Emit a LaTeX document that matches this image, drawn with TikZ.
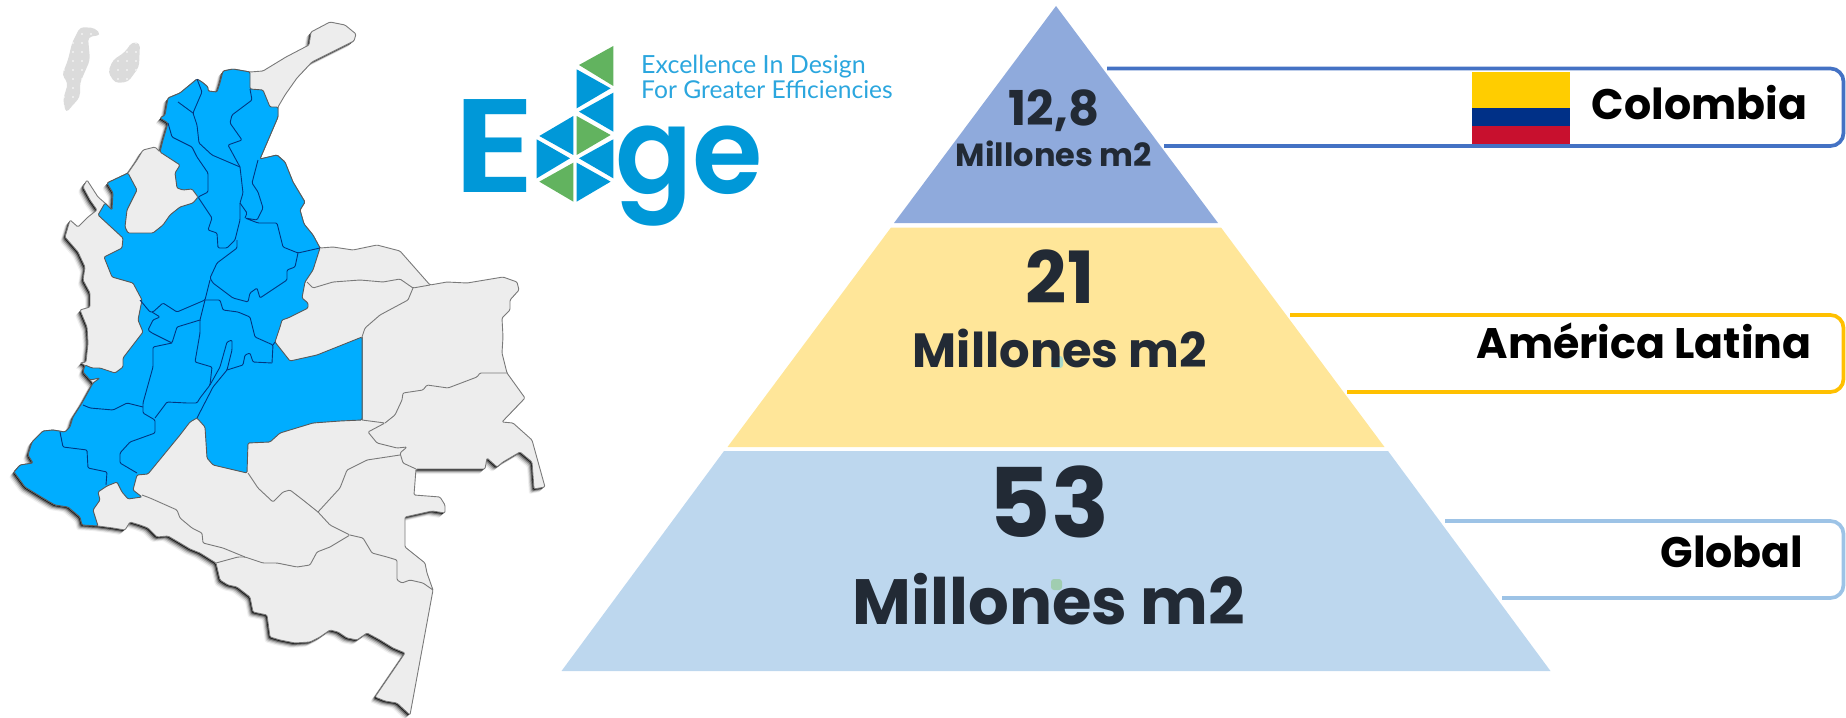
\documentclass[tikz,border=0pt]{standalone}
\usepackage{fontspec}
\newfontfamily\popf{Poppins}[UprightFont=* Bold]
\newfontfamily\popm{Poppins}[UprightFont=* SemiBold]
\newfontfamily\tagf{Lato}
\definecolor{mapblue}{HTML}{00ADFF}
\definecolor{mapgray}{HTML}{EDEDED}
\definecolor{edgeblue}{HTML}{0098D8}
\definecolor{edgegreen}{HTML}{62B35F}
\definecolor{tagblue}{HTML}{2BA6DE}
\definecolor{pyrtop}{HTML}{8FAADC}
\definecolor{pyrmid}{HTML}{FFE699}
\definecolor{pyrlow}{HTML}{BDD7EE}
\definecolor{pyrtext}{HTML}{222A35}
\definecolor{callblue}{HTML}{4472C4}
\definecolor{callgold}{HTML}{FFC000}
\definecolor{calllight}{HTML}{9DC3E6}
\definecolor{flagy}{HTML}{FFCD00}
\definecolor{flagb}{HTML}{003087}
\definecolor{flagr}{HTML}{C8102E}
\definecolor{dotmid}{HTML}{A9D9C8}
\definecolor{dotlow}{HTML}{A0CDB0}
\def\silhouette{(233,69)--(250,72)--(263,71)--(286,57)--(309,45)--(311,32)--(330,22)--(345,25)--(356,34)--(354,41)--(330,53)--(312,62)--(297,78)--(285,95)--(278,107)--(278,117)--(260,159)--(277,155)--(285,162)--(293,182)--(305,202)--(300,210)--(304,224)--(313,235)--(320,248)--(333,247)--(353,250)--(377,245)--(400,251)--(430,285)--(447,282)--(467,283)--(503,277)--(517,282)--(519,290)--(510,300)--(510,310)--(502,318)--(503,337)--(502,353)--(507,373)--(525,398)--(502,422)--(513,423)--(532,440)--(545,487)--(534,489)--(532,462)--(520,452)--(503,462)--(497,467)--(487,458)--(485,469)--(416,469)--(414,495)--(440,497)--(445,505)--(445,513)--(432,511)--(405,517)--(405,547)--(425,563)--(427,573)--(433,590)--(410,715)--(397,703)--(385,701)--(375,697)--(405,653)--(393,648)--(380,640)--(367,633)--(357,640)--(347,638)--(338,632)--(330,630)--(320,637)--(310,642)--(295,643)--(280,640)--(270,637)--(267,615)--(253,612)--(250,597)--(237,587)--(228,585)--(220,580)--(216,563)--(200,553)--(190,549)--(180,543)--(168,536)--(157,537)--(148,528)--(140,525)--(130,522)--(125,530)--(113,528)--(98,526)--(82,525)--(80,517)--(68,507)--(55,505)--(43,498)--(25,487)--(14,472)--(20,465)--(33,463)--(28,455)--(32,442)--(43,431)--(53,430)--(65,432)--(70,427)--(73,417)--(82,403)--(93,383)--(90,380)--(83,372)--(85,365)--(80,363)--(86,362)--(88,343)--(87,327)--(80,310)--(90,307)--(90,293)--(83,280)--(85,267)--(78,252)--(65,237)--(70,220)--(78,227)--(88,217)--(97,210)--(90,200)--(83,187)--(87,180)--(98,197)--(105,203)--(112,210)--(113,193)--(107,183)--(128,173)--(137,160)--(143,150)--(155,147)--(160,152)--(163,140)--(168,123)--(160,118)--(165,115)--(168,98)--(180,93)--(197,79)--(202,82)--(208,87)--(208,91)--(217,92)--(220,83)--(223,71)--cycle}
\tikzset{
  ml/.style={line width=.9pt,draw=black!52,line join=round,rounded corners=1.2pt},
  bl/.style={line width=.9pt,draw=black!50!blue!55!mapblue!70!black,line join=round,rounded corners=1.2pt},
  shade/.style={rounded corners=1.2pt},
  tri/.style={fill=edgeblue},
  trig/.style={fill=edgegreen},
  pyrnum/.style={font=\popf,text=pyrtext,inner sep=0pt,anchor=base},
  calltext/.style={font=\popf\fontsize{42.7}{43}\selectfont,text=black,inner sep=0pt,anchor=base},
  callout/.style={line width=3.7pt,rounded corners=13pt}
}
\begin{document}
\begin{tikzpicture}[x=1pt,y=-1pt]
\useasboundingbox (0,0) rectangle (1846,717);
% islands
\begin{scope}
\clip[rounded corners=4pt] (80,27)--(95,28)--(101,35)--(88,37)--(90,60)--(80,83)--(80,97)--(66,113)--(63,100)--(68,83)--(62,75)--(68,60)--(72,43)--cycle
 (132,42)--(140,43)--(139,67)--(128,82)--(115,83)--(108,72)--(113,60)--(125,52)--cycle;
\fill[black!14] (50,20) rectangle (150,120);
\foreach \i in {0,...,11}{\foreach \j in {0,...,11}{\fill[white] ({55+\i*9},{25+\j*9}) circle (.8);}}
\end{scope}
% shadow
\fill[black!6,shade] [shift={(-5,5)}] \silhouette;
\fill[black!18,shade] [shift={(-4,4)}] \silhouette;
\fill[black!35,shade] [shift={(-3,3)}] \silhouette;
\fill[black!60,shade] [shift={(-2,2)}] \silhouette;
\fill[black!90,shade] [shift={(-1,1)}] \silhouette;
% map
\draw[ml,fill=mapgray] \silhouette;
\draw[ml] (362,337)--(362,420);
\draw[ml] (307,282)--(313,288)--(333,282)--(360,280)--(383,282)--(400,279)--(413,288)--(430,285);
\draw[ml] (413,288)--(408,300)--(380,315)--(365,328)--(362,337);
\draw[ml] (362,420)--(385,423)--(368,432)--(377,443)--(397,448)--(407,447)--(400,453)--(403,463)--(416,469);
\draw[ml] (385,423)--(395,415)--(402,400)--(403,393)--(423,390)--(427,385)--(448,388)--(477,377)--(480,373)--(507,373);
\draw[ml] (400,455)--(367,460)--(347,470)--(340,488)--(318,512);
\draw[ml] (248,473)--(258,488)--(273,502)--(283,492)--(290,490)--(303,500)--(318,512)--(330,525)--(350,535)--(330,547)--(317,552)--(310,565)--(297,567)--(277,563)--(263,563)--(245,557)--(238,557)--(216,563);
\draw[ml] (245,557)--(223,548)--(203,543)--(202,533)--(192,528)--(180,518)--(177,510)--(150,498)--(142,495);
\draw[ml] (350,535)--(363,538)--(372,553)--(387,557)--(397,560)--(397,580)--(402,583)--(410,580)--(423,583)--(433,590);
\draw[line width=.9pt,draw=black!65,line join=round,fill=mapblue,rounded corners=1.2pt] (233,69)--(250,72)--(250,89)--(263,90)--(270,107)--(278,107)--(278,117)--(260,159)--(277,155)--(285,162)--(293,182)--(305,202)--(300,210)--(304,224)--(313,235)--(320,248)--(313,270)--(305,282)--(302,298)--(308,303)--(308,308)--(288,318)--(282,320)--(280,327)--(275,342)--(290,361)--(317,355)--(362,337)--(362,420)--(340,421)--(313,423)--(280,433)--(270,442)--(248,443)--(247,473)--(213,465)--(207,458)--(205,427)--(197,418)--(190,422)--(180,435)--(148,474)--(137,475)--(133,490)--(142,497)--(128,499)--(122,492)--(117,482)--(107,486)--(98,492)--(100,500)--(93,510)--(98,526)--(82,525)--(80,517)--(68,507)--(55,505)--(43,498)--(25,487)--(14,472)--(20,465)--(33,463)--(28,455)--(32,442)--(43,431)--(53,430)--(65,432)--(70,427)--(73,417)--(82,403)--(93,383)--(100,378)--(90,380)--(83,372)--(85,365)--(92,368)--(100,368)--(115,373)--(123,367)--(123,358)--(143,332)--(138,320)--(142,300)--(133,283)--(112,277)--(104,257)--(122,248)--(123,238)--(98,215)--(105,203)--(112,210)--(113,193)--(107,183)--(128,173)--(137,190)--(127,210)--(125,227)--(128,233)--(153,233)--(163,225)--(170,215)--(180,207)--(193,203)--(198,197)--(192,189)--(183,190)--(177,188)--(175,173)--(180,165)--(160,152)--(163,140)--(168,123)--(160,118)--(165,115)--(168,98)--(180,93)--(197,79)--(202,82)--(208,87)--(208,91)--(217,92)--(220,83)--(223,71)--cycle;
\draw[bl] (197,79)--(202,92)--(193,113)--(197,125)--(199,143)--(212,155)--(240,167);
\draw[bl] (178,102)--(193,113);
\draw[bl] (168,123)--(172,137)--(192,147)--(197,157)--(208,173)--(208,192)--(198,197)--(212,218)--(208,230)--(217,233)--(218,248)--(227,248)--(235,240)--(240,220)--(240,203)--(243,193)--(240,167);
\draw[bl] (240,203)--(247,213)--(245,218);
\draw[bl] (250,89)--(252,100)--(232,115)--(230,123)--(242,140)--(228,145)--(240,167);
\draw[bl] (258,160)--(252,183)--(258,192)--(263,208)--(257,220)--(245,218)--(258,223)--(277,223)--(283,247)--(298,253)--(320,248);
\draw[bl] (298,253)--(295,267)--(287,270)--(287,280)--(260,298)--(257,288)--(250,293)--(248,302)--(233,298)--(213,283)--(210,278)--(217,263)--(237,248)--(237,240);
\draw[bl] (210,280)--(205,300)--(177,312)--(163,303)--(153,312)--(150,312)--(140,300);
\draw[bl] (205,300)--(220,300)--(223,310)--(238,312)--(250,317)--(255,337)--(273,345)--(272,363);
\draw[bl] (273,345)--(275,342);
\draw[bl] (205,300)--(200,320)--(200,333)--(195,362)--(212,367)--(210,385)--(200,398)--(197,403)--(187,403)--(167,402)--(155,418);
\draw[bl] (200,320)--(177,327)--(172,343)--(152,333)--(148,330)--(153,320)--(160,317)--(152,312);
\draw[bl] (172,343)--(153,347)--(153,367)--(143,403)--(143,413)--(155,420)--(155,433)--(130,442)--(120,453)--(120,463)--(137,473);
\draw[bl] (143,407)--(127,403)--(113,410)--(90,408)--(83,405);
\draw[bl] (60,432)--(63,447)--(87,450)--(88,468)--(107,472)--(106,485);
\draw[bl] (210,385)--(220,367)--(227,342)--(232,340)--(232,350)--(227,370)--(213,387)--(197,418);
\draw[bl] (227,370)--(243,365)--(245,355)--(250,353)--(253,362)--(272,363);
% logo
\begin{scope}[shift={(450,30)},x=.3333pt,y=-.3333pt]
\fill[trig] (490,48)--(490,168)--(387,105)--cycle;
\fill[tri] (380,118)--(380,235)--(482,175)--cycle;
\fill[tri] (490,188)--(490,305)--(387,245)--cycle;
\fill[tri] (370,258)--(370,375)--(268,318)--cycle;
\fill[trig] (380,258)--(380,375)--(482,315)--cycle;
\fill[tri] (490,328)--(490,445)--(387,385)--cycle;
\fill[tri] (260,328)--(260,445)--(360,385)--cycle;
\fill[trig] (370,398)--(370,515)--(268,455)--cycle;
\fill[tri] (380,398)--(380,515)--(482,455)--cycle;
\end{scope}
\node[font=\popm\fontsize{133}{133}\selectfont,text=edgeblue,inner sep=0pt,anchor=base west,xscale=1.16,transform shape] (logoE) at (453,192) {E};
\node[font=\popm\fontsize{120}{120}\selectfont,text=edgeblue,inner sep=0pt,anchor=base west,xscale=.95,transform shape] (logoge) at (615,193) {ge};
\node[font=\tagf\fontsize{25}{25}\selectfont,text=tagblue,inner sep=0pt,anchor=base west] (tag1) at (641,74) {Excellence In Design};
\node[font=\tagf\fontsize{24.6}{25}\selectfont,text=tagblue,inner sep=0pt,anchor=base west] (tag2) at (641,98) {For Greater Efficiencies};
% pyramid
\fill[pyrtop] (1056,6)--(1218,223)--(894,223)--cycle;
\fill[pyrmid] (891,227.5)--(1221,227.5)--(1384.5,447)--(727.5,447)--cycle;
\fill[pyrlow] (724,451)--(1388,451)--(1550.5,671)--(561.5,671)--cycle;
\fill[fill=dotmid,rounded corners=3pt] (1051,356) rectangle (1063,368);
\fill[fill=dotlow,rounded corners=3pt] (1051,579) rectangle (1062,590);
\node[pyrnum,font=\popf\fontsize{48}{48}\selectfont] (n1) at (1054,125) {12,8};
\node[pyrnum,font=\popf\fontsize{32}{32}\selectfont] (m1) at (1054,166) {Millones m2};
\node[pyrnum,font=\popf\fontsize{72}{72}\selectfont] (n2) at (1060,303) {21};
\node[pyrnum,font=\popf\fontsize{48}{48}\selectfont] (m2) at (1060,367) {Millones m2};
\node[pyrnum,font=\popf\fontsize{96}{96}\selectfont] (n3) at (1049,537) {53};
\node[pyrnum,font=\popf\fontsize{64}{64}\selectfont] (m3) at (1049,624) {Millones m2};
% callouts
\coordinate (c1a) at (1107,68.5); \coordinate (c1b) at (1843.5,68.5); \coordinate (c1c) at (1843.5,146); \coordinate (c1d) at (1164,146);
\coordinate (c2a) at (1290,315); \coordinate (c2b) at (1843.5,315); \coordinate (c2c) at (1843.5,392); \coordinate (c2d) at (1347,392);
\coordinate (c3a) at (1445,521); \coordinate (c3b) at (1843.5,521); \coordinate (c3c) at (1843.5,598); \coordinate (c3d) at (1502,598);
\draw[callout,draw=callblue] (c1a)--(c1b)--(c1c)--(c1d);
\draw[callout,draw=callgold] (c2a)--(c2b)--(c2c)--(c2d);
\draw[callout,draw=calllight] (c3a)--(c3b)--(c3c)--(c3d);
% flag
\fill[fill=flagy] (1472,72) rectangle (1570,108);
\fill[fill=flagb] (1472,108) rectangle (1570,126);
\fill[fill=flagr] (1472,126) rectangle (1570,144);
\node[calltext] (colombia) at (1699.5,119.5) {Colombia};
\node[calltext] (america) at (1644,358) {América Latina};
\node[calltext] (global) at (1732,567) {Global};
\end{tikzpicture}
\end{document}
